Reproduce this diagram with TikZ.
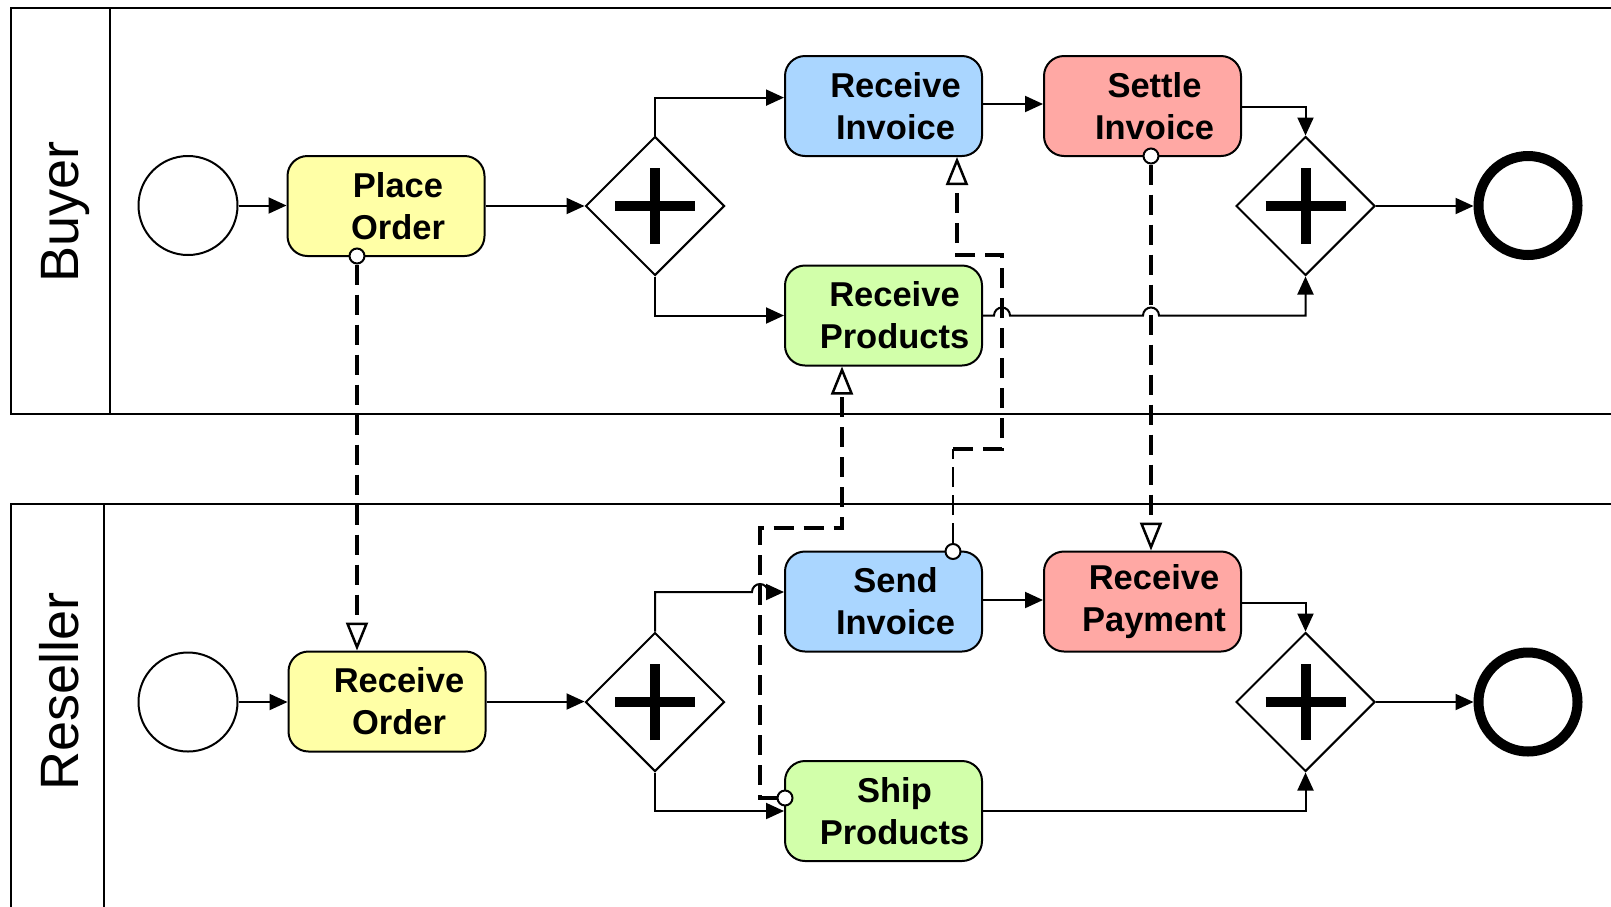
\documentclass[tikz,border=0pt]{standalone}
\usepackage{fontspec}
\setmainfont{Liberation Sans}
\usetikzlibrary{shapes.geometric,arrows.meta}
\definecolor{tyellow}{RGB}{255,255,166}
\definecolor{tblue}{RGB}{170,214,255}
\definecolor{tred}{RGB}{255,168,164}
\definecolor{tgreen}{RGB}{210,255,170}
\begin{document}
\begin{tikzpicture}[x=1pt,y=-1pt,
 task/.style={draw, line width=2pt, rounded corners=20pt, minimum width=197pt, minimum height=100pt, inner sep=0pt},
 tasktext/.style={font=\fontsize{34.5}{42}\selectfont\bfseries, align=center, inner sep=0pt},
 gate/.style={draw, diamond, aspect=1, line width=2pt, minimum size=139pt, inner sep=0pt, fill=white},
 startev/.style={draw, circle, line width=2pt, minimum size=99pt, inner sep=0pt},
 endev/.style={draw, circle, line width=10pt, minimum size=99pt, inner sep=0pt},
 seq/.style={line width=2pt, -{Triangle[length=18pt,width=16pt]}},
 msg/.style={line width=4.5pt, dash pattern=on 20pt off 10pt, -{Triangle[open, length=28pt, width=22pt, line width=2.5pt]}},
 msgthin/.style={line width=2pt, dash pattern=on 20pt off 8pt},
 msgdot/.style={draw, circle, fill=white, line width=2pt, minimum size=15pt, inner sep=0pt},
 pool/.style={line width=2.5pt},
 lanelabel/.style={font=\fontsize{54}{60}\selectfont, rotate=90, inner sep=0pt, anchor=base},
 plusbar/.style={line width=10pt}
]
\useasboundingbox (0,0) rectangle (1611,906);
\clip (0,0) rectangle (1611,906);
\fill[white] (0,0) rectangle (1611,906);

% pools
\draw[pool] (1630,8) -- (11,8) -- (11,414) -- (1630,414);
\draw[pool] (110,8) -- (110,414);
\draw[pool] (1630,504) -- (11,504) -- (11,930);
\draw[pool] (104,504) -- (104,930);
\node[lanelabel] (lbuyer) at (78,212) {Buyer};
\node[lanelabel] (lreseller) at (78,691) {Reseller};

% Buyer lane
\node[startev] (bs) at (188,205.5) {};
\node[task, fill=tyellow] (po) at (386,206) {};
\node[tasktext] (pot) at (398,206) {Place\\Order};
\node[gate] (bg1) at (655,206) {};
\node[task, fill=tblue] (ri) at (883.5,106) {};
\node[tasktext] (rit) at (895.5,106) {Receive\\Invoice};
\node[task, fill=tred] (si) at (1142.5,106) {};
\node[tasktext] (sit) at (1154.5,106) {Settle\\Invoice};
\node[task, fill=tgreen] (rp) at (883.5,315.5) {};
\node[tasktext] (rpt) at (894.5,315.5) {Receive\\Products};
\node[gate] (bg2) at (1305.5,206) {};
\node[endev] (be) at (1528,205.5) {};

% Reseller lane
\node[startev] (rs) at (188,702) {};
\node[task, fill=tyellow] (ro) at (387,701.5) {};
\node[tasktext] (rot) at (399,701.5) {Receive\\Order};
\node[gate] (rg1) at (655,702) {};
\node[task, fill=tblue] (sn) at (883.5,601.5) {};
\node[tasktext] (snt) at (895.5,601.5) {Send\\Invoice};
\node[task, fill=tred] (rpy) at (1142.5,601.5) {};
\node[tasktext] (rpyt) at (1154,601.5) {Receive\\Payment};
\node[task, fill=tgreen] (sp) at (883.5,811) {};
\node[tasktext] (spt) at (894.5,811) {Ship\\Products};
\node[gate] (rg2) at (1305.5,702) {};
\node[endev] (re) at (1528,702) {};

% plus signs
\foreach \g in {bg1,bg2,rg1,rg2}{
  \draw[plusbar] ([xshift=-40pt]\g.center) -- ([xshift=40pt]\g.center);
  \draw[plusbar] ([yshift=-38pt]\g.center) -- ([yshift=38pt]\g.center);
}

% hop coordinates
\coordinate (h1) at (1002,315.5);
\coordinate (h2) at (1151,315.5);
\coordinate (h3) at (760,592);

% sequence flows, buyer
\draw[seq] (bs.east) -- (bs.east -| po.west);
\draw[seq] (po.east) -- (po.east -| bg1.west);
\draw[seq] (bg1.north) |- ([yshift=8.4pt]ri.west);
\draw[seq] ([yshift=2pt]ri.east) -- ([yshift=2pt]si.west);
\draw[seq] ([yshift=-1pt]si.east) -| (bg2.north);
\draw[seq] (bg1.south) |- (rp.west);
\draw[seq] (rp.east) -- ([xshift=-8pt]h1) arc[start angle=180,end angle=0,radius=8pt]
   -- ([xshift=-8pt]h2) arc[start angle=180,end angle=0,radius=8pt] -| (bg2.south);
\draw[seq] (bg2.east) -- (bg2.east -| be.west);

% sequence flows, reseller
\draw[seq] (rs.east) -- (rs.east -| ro.west);
\draw[seq] (ro.east) -- (ro.east -| rg1.west);
\draw[seq] (rg1.north) |- ([xshift=-8pt]h3) arc[start angle=180,end angle=0,radius=8pt] -- (h3 -| sn.west);
\draw[seq] ([yshift=1.5pt]sn.east) -- ([yshift=1.5pt]rpy.west);
\draw[seq] ([yshift=-1.5pt]rpy.east) -| (rg2.north);
\draw[seq] (rg1.south) |- (sp.west);
\draw[seq] (sp.east) -| (rg2.south);
\draw[seq] (rg2.east) -- (rg2.east -| re.west);

% message flows
\node[msgdot] (m1) at (357,256) {};
\node[msgdot] (m2) at (1151,156) {};
\node[msgdot] (m3) at (953,551.5) {};
\node[msgdot] (m4) at (785,798) {};
\coordinate (m3a) at (953,449);
\coordinate (m3b) at (1002,449);
\coordinate (m3c) at (1002,255);
\coordinate (m3d) at (957,255);
\coordinate (m4a) at (760,798);
\coordinate (m4b) at (760,528);
\coordinate (m4c) at (842,528);

\draw[msg] (m1.south) -- (m1.south |- ro.north);
\draw[msg] (m2.south) -- (m2.south |- rpy.north);
\draw[msgthin] (m3.north) -- (m3a);
\draw[msg] (m3a) -- (m3b) -- (m3c) -- (m3d) -- (m3d |- ri.south);
\draw[msg] (m4.west) -- (m4a) -- (m4b) -- (m4c) -- (m4c |- rp.south);
\end{tikzpicture}
\end{document}
